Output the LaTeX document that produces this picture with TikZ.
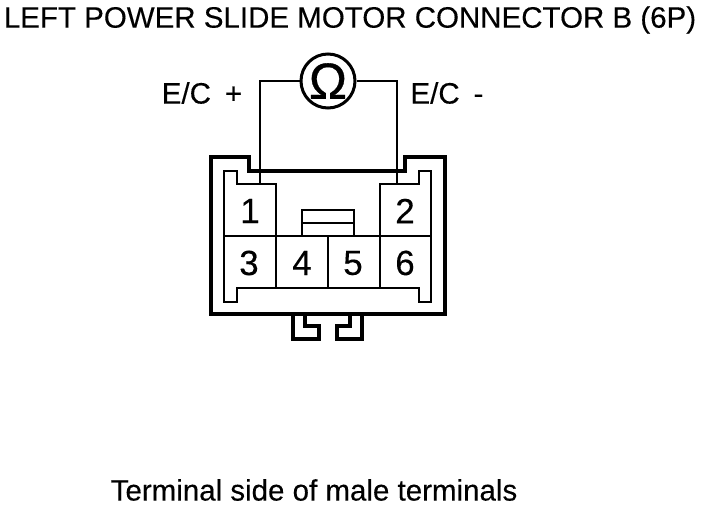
\documentclass[tikz,border=0pt]{standalone}
\usepackage{fontspec}
\setmainfont{Liberation Sans}
\newfontfamily\heavyfont[FakeBold=0.6]{Liberation Sans}
\newfontfamily\midfont[FakeBold=0.25]{Liberation Sans}
\usepackage{tikz}
\usetikzlibrary{positioning}

\begin{document}
\begin{tikzpicture}[x=1pt, y=-1pt]
        \tikzset{
            % Define style for the housing
            shell/.style={
                    line width=3.8pt,
                    line join=miter},
            % Define style for the inner outlines
            inner/.style={
                    line width=2.2pt},
            % Define style for the meter wires
            wire/.style={
                    line width=2.2pt},
            % Define style for the meter
            meter/.style={
                    circle,
                    draw=black,
                    line width=3pt,
                    inner sep=0pt,
                    minimum size=54pt,
                    font=\heavyfont\fontsize{51}{51}\selectfont},
            % Define text styles
            pinlabel/.style={
                    inner sep=0pt,
                    font=\midfont\fontsize{35}{35}\selectfont},
            caption/.style={
                    inner sep=0pt,
                    font=\midfont\fontsize{29.5}{29.5}\selectfont},
        }
        \useasboundingbox (0,0) rectangle (704,506);

        % Draw the texts
        \node[caption] (title) at (350,20) {LEFT POWER SLIDE MOTOR CONNECTOR B (6P)};
        \node[caption] (ecplus) at (202,93) {E/C\hspace{14pt}+};
        \node[caption] (ecminus) at (447,93) {E/C\hspace{14pt}-};
        \node[caption] (side) at (314,490) {Terminal side of male terminals};

        % Draw the housing
        \draw[shell] (211,157) -- (249,157) -- (249,171) -- (405,171) -- (405,157)
            -- (445,157) -- (445,314) -- (211,314) -- cycle;

        % Draw the latch
        \draw[shell] (293,314) -- (293,339) -- (319,339) -- (319,326) -- (305,326) -- (305,314);
        \draw[shell] (362,314) -- (362,339) -- (337,339) -- (337,326) -- (350,326) -- (350,314);

        % Draw the inner outline
        \draw[inner] (276,236) -- (276,184) -- (237,184) -- (237,171) -- (224,171)
            -- (224,302) -- (237,302) -- (237,288) -- (419,288) -- (419,302)
            -- (431,302) -- (431,171) -- (419,171) -- (419,184) -- (380,184) -- (380,236);
        \draw[inner] (224,236) -- (431,236);
        \draw[inner] (276,236) -- (276,288);
        \draw[inner] (328,236) -- (328,288);
        \draw[inner] (380,236) -- (380,288);

        % Draw the tab
        \draw[inner] (302,236) -- (302,210) -- (354,210) -- (354,236);
        \draw[inner] (302,223) -- (354,223);

        % Draw the pin numbers
        \foreach \pin/\xpos/\ypos in {1/250/211, 2/405/211, 3/249/263, 4/302/263, 5/353/263, 6/405/263}
            \node[pinlabel] (p\pin) at (\xpos,\ypos) {\pin};

        % Connect the meter with the pins
        \node[meter] (ohm) at (328,81) {Ω};
        \coordinate (wireL) at (260,184);
        \coordinate (wireR) at (397,184);
        \draw[wire] (ohm.west) -| (wireL);
        \draw[wire] (ohm.east) -| (wireR);

    \end{tikzpicture}
\end{document}
